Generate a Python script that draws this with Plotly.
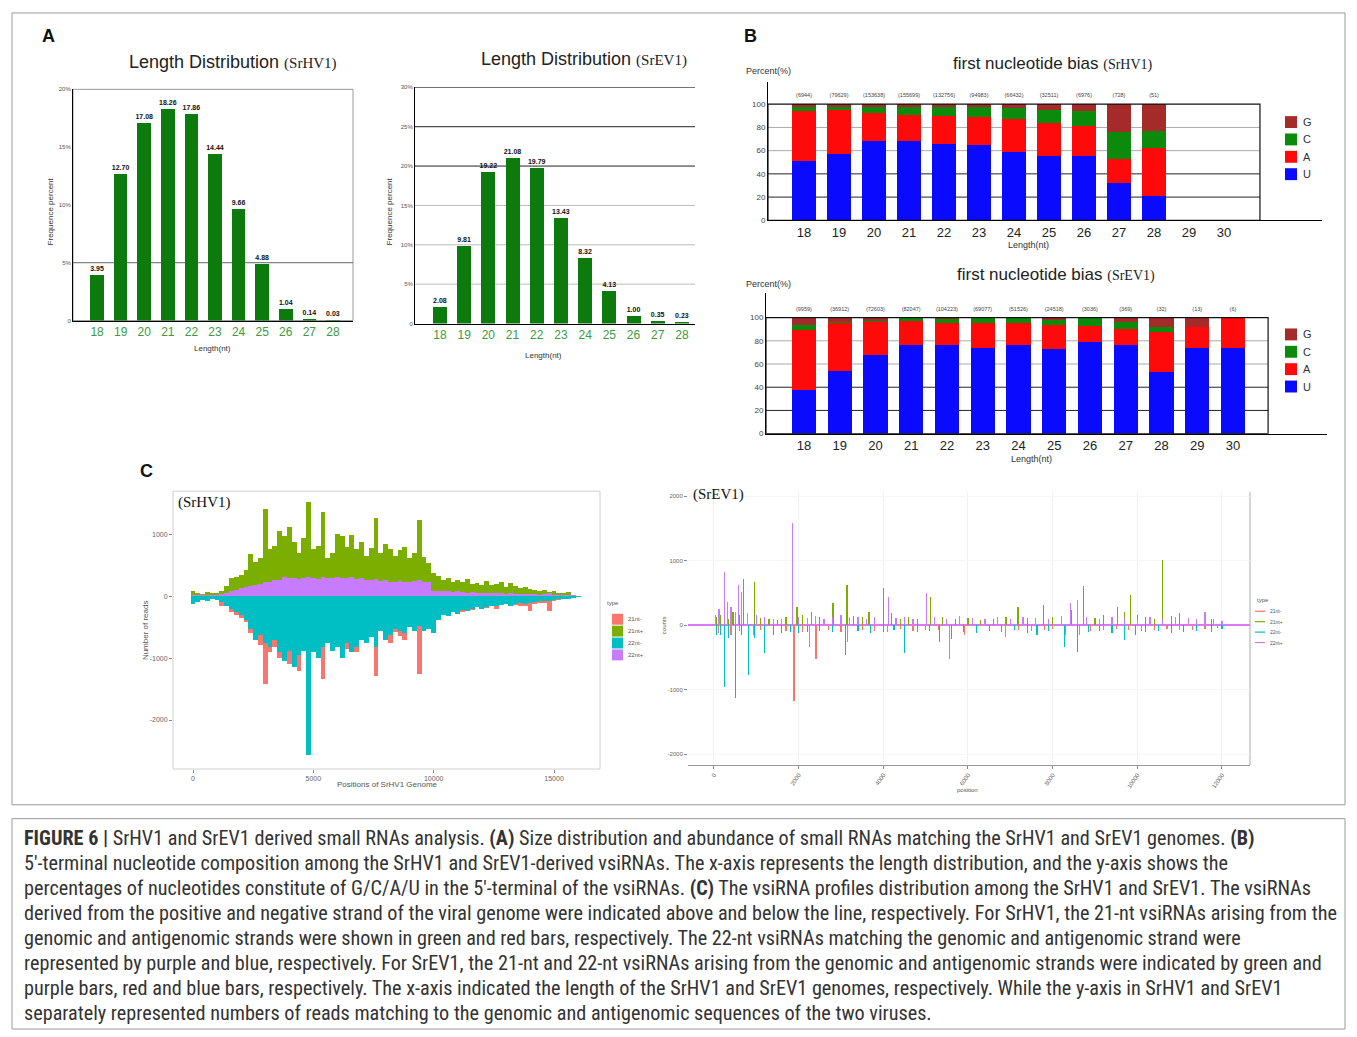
import plotly.graph_objects as go

W, H = 1357, 1037
def fx(x): return x / W
def fy(y): return 1 - y / H

# ---------------- data ----------------
len_A = [18, 19, 20, 21, 22, 23, 24, 25, 26, 27, 28]
srhv1_len_pct = [3.95, 12.70, 17.08, 18.26, 17.86, 14.44, 9.66, 4.88, 1.04, 0.14, 0.03]
srev1_len_pct = [2.08, 9.81, 19.22, 21.08, 19.79, 13.43, 8.32, 4.13, 1.00, 0.35, 0.23]

len_B = [18, 19, 20, 21, 22, 23, 24, 25, 26, 27, 28, 29, 30]
hv_U = [51, 57, 68, 68, 66, 65, 59, 55, 55, 32, 21, 0, 0]
hv_A = [43, 38, 24, 23, 24, 24, 28, 29, 26, 21, 41, 0, 0]
hv_C = [4, 3, 6, 7, 8, 9, 10, 11, 13, 23, 15, 0, 0]
hv_G = [2, 2, 2, 2, 2, 2, 3, 5, 6, 24, 23, 0, 0]
hv_counts = ["(6944)", "(79629)", "(153638)", "(155699)", "(132756)", "(94983)",
             "(66432)", "(32511)", "(6976)", "(728)", "(51)", "", ""]

ev_U = [38, 54, 68, 76, 76, 74, 76, 73, 79, 76, 53, 74, 74]
ev_A = [51, 41, 28, 21, 19, 21, 19, 21, 14, 14, 35, 18, 26]
ev_C = [5, 1, 1, 3, 4, 5, 5, 4, 7, 6, 4, 0, 0]
ev_G = [6, 4, 3, 0, 1, 0, 0, 2, 0, 4, 8, 8, 0]
ev_counts = ["(9959)", "(36912)", "(72603)", "(82047)", "(104223)", "(69077)", "(51526)",
             "(24518)", "(3036)", "(369)", "(32)", "(13)", "(6)"]

# SrHV1 vsiRNA profile, 200-nt bins
hv_pos = list(range(0, 16001, 200))
hv_21p = [80, 60, 40, 70, 50, 60, 90, 160, 300, 320, 350, 420, 690, 560, 620, 1420, 760, 820, 1050, 980,
          1120, 880, 700, 950, 1520, 760, 820, 1360, 620, 700, 1010, 980, 800, 1000, 760, 880, 650, 780,
          1260, 700, 850, 760, 660, 750, 800, 620, 700, 1230, 640, 540, 380, 330, 270, 300, 230, 260, 240,
          280, 200, 220, 190, 250, 180, 200, 230, 150, 210, 160, 130, 150, 120, 110, 90, 100, 70, 80, 60,
          50, 70, 30, 10]
hv_22p = [30, 20, 15, 20, 15, 20, 40, 60, 90, 110, 130, 150, 170, 190, 200, 230, 240, 260, 270, 310,
          290, 300, 280, 290, 320, 300, 280, 310, 290, 300, 320, 300, 290, 310, 280, 300, 270, 260, 280,
          250, 270, 240, 230, 250, 240, 230, 250, 260, 240, 230, 90, 80, 90, 80, 70, 80, 70, 60, 70, 60,
          60, 50, 60, 50, 50, 45, 50, 40, 45, 40, 35, 40, 30, 35, 60, 30, 20, 25, 20, 15, 5]
hv_21m = [-60, -40, -30, -40, -30, -40, -150, -100, -250, -300, -350, -420, -600, -550, -780, -1420,
          -900, -820, -1000, -850, -1100, -950, -1200, -800, -900, -750, -880, -1340, -700, -650, -780,
          -700, -850, -720, -900, -600, -680, -560, -1280, -520, -640, -760, -580, -640, -700, -480, -520,
          -1260, -500, -420, -340, -300, -260, -280, -230, -210, -250, -180, -220, -150, -170, -190, -140,
          -200, -130, -120, -110, -140, -160, -160, -230, -120, -110, -100, -240, -80, -60, -50, -40, -30, -10]
hv_22m = [-120, -90, -60, -80, -50, -60, -90, -150, -200, -260, -300, -380, -520, -700, -620, -760,
          -820, -700, -900, -1050, -880, -1150, -950, -880, -2560, -900, -1000, -820, -760, -880, -820,
          -1000, -760, -900, -820, -700, -760, -650, -820, -560, -700, -620, -520, -560, -600, -500, -560,
          -480, -560, -520, -600, -380, -300, -320, -250, -280, -220, -240, -200, -180, -200, -170, -160,
          -150, -140, -130, -150, -120, -110, -120, -100, -90, -80, -70, -80, -60, -50, -40, -35, -20, -5]

# SrEV1 vsiRNA profile (spikes)
ev_21p_pos = [50, 150, 250, 350, 450, 600, 700, 800, 950, 1100, 1300, 1500, 1700, 1960, 2100, 2300, 2500,
              2810, 3000, 3140, 3300, 3500, 3660, 3800, 4000, 4200, 4400, 4600, 4800, 5120, 5400, 5700,
              6000, 6300, 6600, 6900, 7180, 7400, 7780, 8000, 8200, 8450, 8730, 9000, 9200, 9540, 9700,
              9840, 10000, 10200, 10400, 10590, 10800, 11000, 11200, 11400, 11600, 11750]
ev_21p_val = [120, 150, 180, 100, 200, 160, 720, 130, 670, 110, 90, 80, 120, 285, 150, 200, 120, 340,
              160, 620, 140, 120, 210, 110, 570, 180, 90, 130, 100, 440, 120, 90, 110, 80, 100, 130, 285,
              110, 310, 120, 100, 240, 600, 110, 160, 285, 200, 470, 150, 120, 100, 1010, 140, 180, 110,
              90, 210, 90]
ev_22p_pos = [30, 120, 250, 320, 400, 500, 580, 650, 800, 1000, 1200, 1400, 1600, 1860, 2000, 2200, 2400,
              2600, 2800, 3000, 3200, 3400, 3600, 3800, 4130, 4300, 4500, 4700, 5020, 5200, 5500, 5800,
              6100, 6400, 6700, 7000, 7300, 7600, 7900, 8200, 8430, 8580, 8800, 9100, 9400, 9700, 10000,
              10300, 10600, 10900, 11200, 11400, 11600, 11800, 12000]
ev_22p_val = [150, 250, 830, 360, 285, 200, 620, 520, 180, 150, 120, 100, 90, 1580, 130, 110, 140, 90,
              120, 150, 110, 130, 100, 120, 440, 110, 130, 90, 490, 120, 100, 140, 110, 90, 120, 100, 130,
              110, 90, 140, 340, 390, 120, 100, 130, 110, 90, 120, 100, 130, 110, 90, 200, 100, 60]
ev_21m_pos = [100, 250, 400, 600, 930, 1100, 1400, 1700, 1890, 2100, 2260, 2410, 2700, 3000, 3160, 3500,
              3800, 4100, 4400, 4700, 5000, 5300, 5570, 5920, 6200, 6500, 6880, 7200, 7500, 7800, 8000,
              8310, 8630, 8900, 9200, 9500, 9800, 10100, 10400, 10700, 11000, 11300, 11600, 11900]
ev_21m_val = [-120, -520, -150, -90, -155, -80, -60, -90, -1170, -100, -340, -520, -80, -110, -260, -70,
              -90, -100, -60, -90, -80, -70, -520, -155, -60, -90, -180, -70, -90, -80, -60, -155, -155,
              -90, -70, -60, -80, -90, -70, -60, -80, -70, -60, -50]
ev_22m_pos = [50, 150, 250, 350, 500, 650, 820, 950, 1200, 1400, 1600, 1800, 2000, 2200, 2500, 2800, 3110,
              3400, 3700, 4000, 4250, 4500, 4800, 5100, 5320, 5620, 5900, 6200, 6500, 6800, 7100, 7400,
              7630, 7900, 8280, 8580, 8850, 9100, 9400, 9690, 9950, 10200, 10500, 10800, 11100, 11400,
              11750, 12000]
ev_22m_val = [-150, -155, -960, -200, -1130, -150, -780, -200, -440, -150, -120, -100, -130, -110, -90,
              -100, -470, -90, -120, -100, -80, -440, -110, -90, -260, -210, -100, -130, -90, -110, -80,
              -120, -155, -90, -340, -415, -100, -90, -120, -235, -150, -110, -90, -120, -100, -90, -100, -60]

hv_xticks = [0, 5000, 10000, 15000]
ev_xticks = [0, 2000, 4000, 6000, 8000, 10000, 12000]

type_labels = ["21nt-", "21nt+", "22nt-", "22nt+"]
gg_colors = ["#F8766D", "#7CAE00", "#00BFC4", "#C77CFF"]
nuc_labels = ["G", "C", "A", "U"]
nuc_colors = ["#a52a2a", "#0b8a0b", "#ff0a0a", "#0a0aff"]

SANS = "Liberation Sans, Arial, sans-serif"
SERIF = "Liberation Serif, Times New Roman, serif"
BAR_GREEN = "#0d7a0d"

fig = go.Figure()

# ---------- Panel A ----------
for ax, vals in (("", srhv1_len_pct), ("2", srev1_len_pct)):
    fig.add_trace(go.Bar(x=len_A, y=vals, xaxis="x" + ax, yaxis="y" + ax, width=0.58,
                         marker=dict(color=BAR_GREEN, line=dict(width=0)),
                         texttemplate="<b>%{y:.2f}</b>", textposition="outside",
                         textfont=dict(size=7, color="#111", family=SANS),
                         constraintext="none", cliponaxis=False))

# ---------- Panel B (stacked via base) ----------
def stack(ax, U, A, C, G, counts):
    base = [0] * len(U)
    for vals, col in ((U, nuc_colors[3]), (A, nuc_colors[2]), (C, nuc_colors[1]), (G, nuc_colors[0])):
        fig.add_trace(go.Bar(x=len_B, y=vals, base=base, xaxis="x" + ax, yaxis="y" + ax, width=0.68,
                             marker=dict(color=col, line=dict(width=0))))
        base = [b + v for b, v in zip(base, vals)]
    fig.add_trace(go.Scatter(x=len_B, y=[107] * len(len_B), mode="text", text=counts,
                             textfont=dict(size=5.5, color="#444", family=SANS),
                             xaxis="x" + ax, yaxis="y" + ax, cliponaxis=False))

stack("3", hv_U, hv_A, hv_C, hv_G, hv_counts)
stack("4", ev_U, ev_A, ev_C, ev_G, ev_counts)

# ---------- Panel C ----------
hv_series = [hv_21m, hv_21p, hv_22m, hv_22p]
for i in (0, 2, 1, 3):
    fig.add_trace(go.Bar(x=hv_pos, y=hv_series[i], xaxis="x5", yaxis="y5", width=200,
                         marker=dict(color=gg_colors[i], line=dict(width=0)), name=type_labels[i]))

ev_series = [(ev_21m_pos, ev_21m_val), (ev_21p_pos, ev_21p_val), (ev_22m_pos, ev_22m_val), (ev_22p_pos, ev_22p_val)]
for i in (0, 2, 1, 3):
    p, v = ev_series[i]
    fig.add_trace(go.Bar(x=p, y=v, xaxis="x6", yaxis="y6", width=28,
                         marker=dict(color=gg_colors[i], line=dict(width=0)), name=type_labels[i]))

# ---------- axes ----------
def xa(dom, rng, **kw):
    d = dict(domain=[fx(dom[0]), fx(dom[1])], range=rng, showgrid=False, zeroline=False,
             showline=True, linecolor="#000", linewidth=1, ticks="", fixedrange=True)
    d.update(kw); return d

def ya(dom, rng, **kw):
    d = dict(domain=[fy(dom[1]), fy(dom[0])], range=rng, showgrid=False, zeroline=False,
             showline=True, linecolor="#000", linewidth=1, ticks="", fixedrange=True)
    d.update(kw); return d

tickA = dict(size=12, color="#3d9a3d", family=SANS)
tickB = dict(size=13, color="#222", family=SANS)
tickC = dict(size=7, color="#666", family=SANS)

layout_axes = dict(
    xaxis=xa((73, 353), [16.98, 28.85], anchor="y", tickvals=len_A, tickfont=tickA),
    yaxis=ya((87, 320), [0, 20], anchor="x", tickvals=[0, 5, 10, 15, 20],
             ticktext=["0", "5%", "10%", "15%", "20%"], tickfont=dict(size=6, color="#555")),
    xaxis2=xa((415, 695), [16.97, 28.54], anchor="y2", tickvals=len_A, tickfont=tickA),
    yaxis2=ya((85, 323), [0, 30], anchor="x2", tickvals=[0, 5, 10, 15, 20, 25, 30],
              ticktext=["0", "5%", "10%", "15%", "20%", "25%", "30%"], tickfont=dict(size=6, color="#555")),
    xaxis3=xa((768, 1322), [16.97, 32.8], anchor="y3", tickvals=len_B, tickfont=tickB),
    yaxis3=ya((80, 219), [0, 118.8], anchor="x3", tickvals=[0, 20, 40, 60, 80, 100],
              tickfont=dict(size=8, color="#444")),
    xaxis4=xa((766, 1327), [16.94, 32.63], anchor="y4", tickvals=len_B, tickfont=tickB),
    yaxis4=ya((292, 434), [0, 121.4], anchor="x4", tickvals=[0, 20, 40, 60, 80, 100],
              tickfont=dict(size=8, color="#444")),
    xaxis5=xa((173, 600), [-831, 16909], anchor="y5", tickvals=hv_xticks,
              ticktext=[str(t) for t in hv_xticks],
              tickfont=tickC, showline=False, ticks="outside", ticklen=3, tickcolor="#888"),
    yaxis5=ya((492, 772), [-2793, 1701], anchor="x5", tickvals=[-2000, -1000, 0, 1000],
              ticktext=["-2000", "-1000", "0", "1000"],
              tickfont=tickC, showline=False, ticks="outside", ticklen=3, tickcolor="#888"),
    xaxis6=xa((688, 1250), [-614, 12662], anchor="y6", tickvals=ev_xticks,
              ticktext=[str(t) for t in ev_xticks],
              tickfont=dict(size=6, color="#666"), tickangle=-55, ticks="outside", ticklen=3,
              tickcolor="#888", linecolor="#999", showgrid=True, gridcolor="#f2f2f2"),
    yaxis6=ya((493, 768), [-2170, 2060], anchor="x6", tickvals=[-2000, -1000, 0, 1000, 2000],
              ticktext=["-2000", "-1000", "0", "1000", "2000"],
              tickfont=dict(size=6, color="#666"), showline=False, ticks="outside", ticklen=3,
              tickcolor="#888", zeroline=True, zerolinecolor="#d77cf0", zerolinewidth=2,
              showgrid=True, gridcolor="#f6f6f6"),
)

# ---------- shapes ----------
shapes = []
def rect(x0, y0, x1, y1, color="#999", width=1):
    shapes.append(dict(type="rect", xref="paper", yref="paper", x0=fx(x0), x1=fx(x1), y0=fy(y1), y1=fy(y0),
                       line=dict(color=color, width=width), fillcolor="rgba(0,0,0,0)", layer="below"))

# figure frames
rect(12, 10, 1345, 808, "#9a9a9a")
rect(12, 822, 1345, 1034, "#9a9a9a")

# Panel A1 box and 5% line
shapes.append(dict(type="rect", xref="x domain", yref="y domain", x0=0, x1=1, y0=0, y1=1,
                   line=dict(color="#9a9a9a", width=1), layer="below"))
shapes.append(dict(type="line", xref="x domain", yref="y", x0=0, x1=1, y0=5, y1=5,
                   line=dict(color="#666", width=1), layer="below"))
# Panel A2 grid
for g, c in ((5, "#bbb"), (10, "#bbb"), (15, "#bbb"), (20, "#222"), (25, "#222"), (30, "#222")):
    shapes.append(dict(type="line", xref="x2 domain", yref="y2", x0=0, x1=1, y0=g, y1=g,
                       line=dict(color=c, width=1), layer="below"))
# Panel B boxes and grids
for ax, right in (("3", 0.888), ("4", 0.895)):
    for g, c in ((20, "#222"), (40, "#222"), (60, "#aaa"), (80, "#aaa")):
        shapes.append(dict(type="line", xref=f"x{ax} domain", yref=f"y{ax}", x0=0, x1=right, y0=g, y1=g,
                           line=dict(color=c, width=1), layer="below"))
    shapes.append(dict(type="rect", xref=f"x{ax} domain", yref=f"y{ax}", x0=0, x1=right, y0=0, y1=100,
                       line=dict(color="#111", width=1.2), layer="above"))
# Panel C boxes
shapes.append(dict(type="rect", xref="x5 domain", yref="y5 domain", x0=0, x1=1, y0=0, y1=1,
                   line=dict(color="#d0d0d0", width=1), layer="below"))
shapes.append(dict(type="line", xref="x6 domain", yref="y6 domain", x0=1, x1=1, y0=0, y1=1,
                   line=dict(color="#aaa", width=1), layer="below"))

# legends for panel B
for yg in (120, 334):
    for k in range(4):
        yy = yg + k * 17.5
        shapes.append(dict(type="rect", xref="paper", yref="paper", x0=fx(1285), x1=fx(1297),
                           y0=fy(yy + 6), y1=fy(yy - 6), line=dict(width=0), fillcolor=nuc_colors[k]))
# legends for panel C
for k in range(4):
    yy = 621 + k * 12
    shapes.append(dict(type="rect", xref="paper", yref="paper", x0=fx(612), x1=fx(623),
                       y0=fy(yy + 5.5), y1=fy(yy - 5.5), line=dict(width=0), fillcolor=gg_colors[k]))
    yy2 = 613 + k * 10.5
    shapes.append(dict(type="line", xref="paper", yref="paper", x0=fx(1255), x1=fx(1265),
                       y0=fy(yy2), y1=fy(yy2), line=dict(width=1.2, color=gg_colors[k])))

# ---------- annotations ----------
anns = []
def ann(text, x, y, size, color="#222", xanchor="center", family=SANS, angle=0, yanchor="middle"):
    anns.append(dict(text=text, x=fx(x), y=fy(y), xref="paper", yref="paper", showarrow=False,
                     xanchor=xanchor, yanchor=yanchor, textangle=angle,
                     font=dict(size=size, color=color, family=family)))

def serif(t, size):
    return f"<span style='font-family:Liberation Serif, Times New Roman, serif;font-size:{size}px'>{t}</span>"

ann("<b>A</b>", 48, 33, 18, "#111")
ann("<b>B</b>", 750, 33, 18, "#111")
ann("<b>C</b>", 146, 472, 18, "#111")

ann("Length Distribution " + serif("(SrHV1)", 15), 233, 59, 18)
ann("Length Distribution " + serif("(SrEV1)", 15), 584, 56, 18)
ann("Frequence percent", 50, 210, 8, "#333", angle=-90)
ann("Frequence percent", 389, 210, 8, "#333", angle=-90)
ann("Length(nt)", 212, 348, 8, "#333")
ann("Length(nt)", 543, 355, 8, "#333")

ann("first nucleotide bias " + serif("(SrHV1)", 14), 1053, 61, 17)
ann("first nucleotide bias " + serif("(SrEV1)", 14), 1056, 274, 17)
ann("Percent(%)", 744, 69, 9, "#333", xanchor="left")
ann("Percent(%)", 744, 283, 9, "#333", xanchor="left")
ann("Length(nt)", 1028, 244, 9, "#333")
ann("Length(nt)", 1031, 460, 9, "#333")
for yg in (120, 334):
    for k in range(4):
        ann(nuc_labels[k], 1301, yg + k * 17.5, 11, "#333", xanchor="left")

ann("(SrHV1)", 176, 503, 15, "#111", xanchor="left", family=SERIF)
ann("(SrEV1)", 691, 495, 15, "#111", xanchor="left", family=SERIF)
ann("Number of reads", 145, 632, 8, "#555", angle=-90)
ann("Positions of SrHV1 Genome", 387, 788, 8, "#555")
ann("counts", 664, 627, 6, "#555", angle=-90)
ann("position", 967, 793, 6, "#555")
ann("type", 605, 605, 6, "#555", xanchor="left")
ann("type", 1255, 602, 6, "#555", xanchor="left")
for k in range(4):
    ann(type_labels[k], 626, 621 + k * 12, 6, "#555", xanchor="left")
    ann(type_labels[k], 1268, 613 + k * 10.5, 5, "#555", xanchor="left")

caption = [
    "<b>FIGURE 6 |</b> SrHV1 and SrEV1 derived small RNAs analysis. <b>(A)</b> Size distribution and abundance of small RNAs matching the SrHV1 and SrEV1 genomes. <b>(B)</b>",
    "5′-terminal nucleotide composition among the SrHV1 and SrEV1-derived vsiRNAs. The x-axis represents the length distribution, and the y-axis shows the",
    "percentages of nucleotides constitute of G/C/A/U in the 5′-terminal of the vsiRNAs. <b>(C)</b> The vsiRNA profiles distribution among the SrHV1 and SrEV1. The vsiRNAs",
    "derived from the positive and negative strand of the viral genome were indicated above and below the line, respectively. For SrHV1, the 21-nt vsiRNAs arising from the",
    "genomic and antigenomic strands were shown in green and red bars, respectively. The 22-nt vsiRNAs matching the genomic and antigenomic strand were",
    "represented by purple and blue, respectively. For SrEV1, the 21-nt and 22-nt vsiRNAs arising from the genomic and antigenomic strands were indicated by green and",
    "purple bars, red and blue bars, respectively. The x-axis indicated the length of the SrHV1 and SrEV1 genomes, respectively. While the y-axis in SrHV1 and SrEV1",
    "separately represented numbers of reads matching to the genomic and antigenomic sequences of the two viruses.",
]
for i, line in enumerate(caption):
    ann(line, 22, 841 + i * 25.2, 20.2, "#333", xanchor="left",
        family="Liberation Sans Narrow, Roboto Condensed, DejaVu Sans Condensed, Liberation Sans, sans-serif")

fig.update_layout(width=W, height=H, margin=dict(l=0, r=0, t=0, b=0),
                  paper_bgcolor="white", plot_bgcolor="white", showlegend=False,
                  barmode="overlay", bargap=0, font=dict(family=SANS),
                  shapes=shapes, annotations=anns, **layout_axes)

fig.write_html("out.html", config={"displayModeBar": False, "staticPlot": True},
               post_script="document.body.style.margin='0';document.body.style.overflow='hidden';")
